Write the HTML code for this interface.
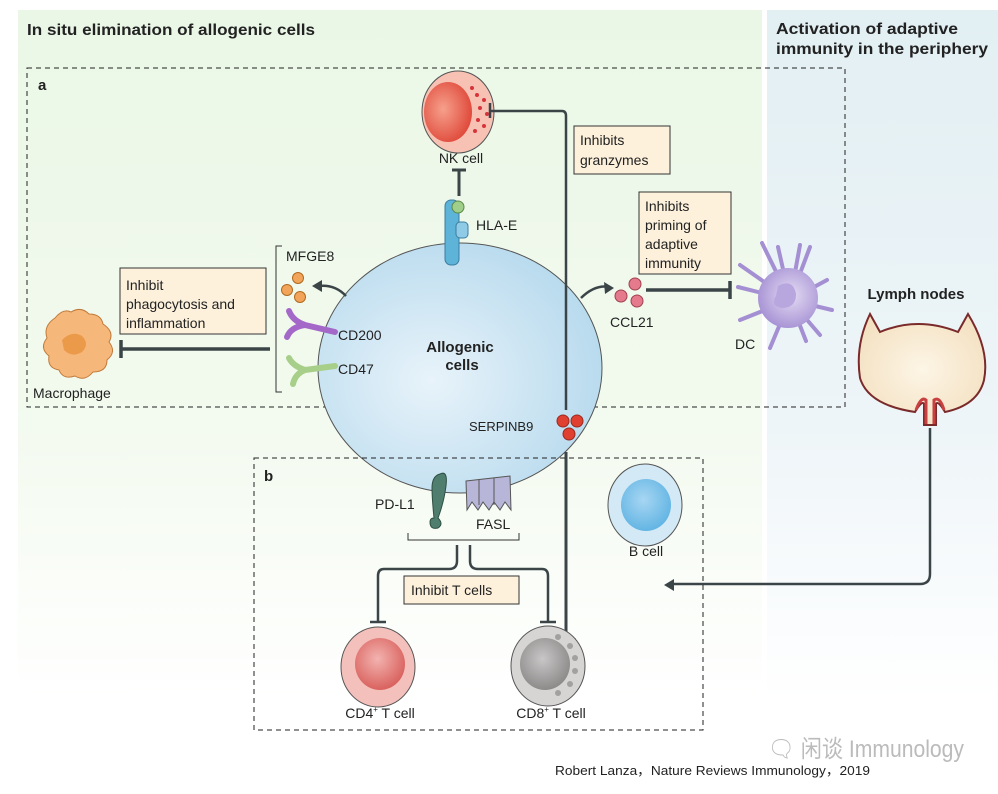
<!DOCTYPE html>
<html><head><meta charset="utf-8"><style>
html,body{margin:0;padding:0;background:#fff;}
svg{display:block;font-family:"Liberation Sans","Noto Sans CJK SC",sans-serif;}
</style></head><body>
<svg width="998" height="794" viewBox="0 0 998 794" xmlns="http://www.w3.org/2000/svg">
<defs>
<linearGradient id="gg" x1="0" y1="0" x2="0" y2="1"><stop offset="0" stop-color="#eaf7e6"/><stop offset="0.6" stop-color="#f3faef"/><stop offset="1" stop-color="#ffffff"/></linearGradient>
<linearGradient id="bg" x1="0" y1="0" x2="0" y2="1"><stop offset="0" stop-color="#e2eff3"/><stop offset="0.6" stop-color="#eef5f8"/><stop offset="1" stop-color="#ffffff"/></linearGradient>
<radialGradient id="cell" cx="0.4" cy="0.55" r="0.6"><stop offset="0" stop-color="#e8f3fa"/><stop offset="1" stop-color="#b9dbee"/></radialGradient>
<radialGradient id="nk" cx="0.4" cy="0.45" r="0.6"><stop offset="0" stop-color="#f6a08c"/><stop offset="1" stop-color="#e04b3c"/></radialGradient>
<radialGradient id="cd4" cx="0.45" cy="0.4" r="0.6"><stop offset="0" stop-color="#f3b3b0"/><stop offset="1" stop-color="#d9625e"/></radialGradient>
<radialGradient id="cd8" cx="0.45" cy="0.4" r="0.6"><stop offset="0" stop-color="#c8c6c6"/><stop offset="1" stop-color="#8d8a8a"/></radialGradient>
<radialGradient id="bc" cx="0.45" cy="0.4" r="0.6"><stop offset="0" stop-color="#a7d6f2"/><stop offset="1" stop-color="#63b5e4"/></radialGradient>
<radialGradient id="dc" cx="0.55" cy="0.45" r="0.6"><stop offset="0" stop-color="#e4dcf3"/><stop offset="1" stop-color="#a48fd3"/></radialGradient>
<radialGradient id="ln" cx="0.5" cy="0.5" r="0.6"><stop offset="0" stop-color="#fdf5e6"/><stop offset="1" stop-color="#f3e0c0"/></radialGradient>
</defs>
<rect x="18" y="10" width="744" height="690" fill="url(#gg)"/>
<rect x="767" y="10" width="231" height="690" fill="url(#bg)"/>

<text x="27" y="35" font-size="16" font-weight="bold" fill="#222" textLength="288" lengthAdjust="spacingAndGlyphs">In situ elimination of allogenic cells</text>
<text x="776" y="34" font-size="16" font-weight="bold" fill="#222" textLength="182" lengthAdjust="spacingAndGlyphs">Activation of adaptive</text>
<text x="776" y="54" font-size="16" font-weight="bold" fill="#222" textLength="212" lengthAdjust="spacingAndGlyphs">immunity in the periphery</text>

<rect x="27" y="68" width="818" height="339" fill="none" stroke="#222" stroke-dasharray="5,4"/>
<text x="38" y="90" font-size="15" font-weight="bold" fill="#222">a</text>

<ellipse cx="460" cy="368" rx="142" ry="125" fill="url(#cell)" stroke="#555" stroke-width="1"/>
<text x="460" y="352" font-size="15" font-weight="bold" text-anchor="middle" fill="#222">Allogenic</text>
<text x="462" y="370" font-size="15" font-weight="bold" text-anchor="middle" fill="#222">cells</text>

<ellipse cx="458" cy="112" rx="36" ry="41" fill="#f7c2b4" stroke="#555"/>
<ellipse cx="448" cy="112" rx="24" ry="30" fill="url(#nk)"/>
<g fill="#d8323a"><circle cx="477" cy="95" r="2"/><circle cx="484" cy="100" r="2"/><circle cx="480" cy="108" r="2"/><circle cx="487" cy="114" r="2"/><circle cx="478" cy="120" r="2"/><circle cx="484" cy="126" r="2"/><circle cx="475" cy="131" r="2"/><circle cx="472" cy="88" r="2"/></g>
<text x="461" y="163" font-size="14" text-anchor="middle" fill="#222">NK cell</text>
<path d="M459 196 V170 M452 170 H466" stroke="#3b4548" stroke-width="3" fill="none"/>
<rect x="445" y="200" width="14" height="65" rx="6" fill="#5eb3d8" stroke="#3b7da0"/>
<rect x="456" y="222" width="12" height="16" rx="4" fill="#8fcbe6" stroke="#3b7da0"/>
<circle cx="458" cy="207" r="6" fill="#9fcf8a" stroke="#5a8a45"/>
<text x="476" y="230" font-size="14" fill="#222">HLA-E</text>

<path d="M490 103 V118 M490 111 H562 Q566 111 566 116 V410" stroke="#3b4548" stroke-width="2.5" fill="none"/>
<path d="M566 452 V640 M556 640 H576" stroke="#3b4548" stroke-width="3" fill="none"/>
<rect x="574" y="126" width="96" height="48" fill="#fdf1dc" stroke="#333"/>
<text x="580" y="145" font-size="14" fill="#222">Inhibits</text>
<text x="580" y="165" font-size="14" fill="#222">granzymes</text>

<circle cx="563" cy="421" r="6" fill="#e0402f" stroke="#9a2a20"/>
<circle cx="577" cy="421" r="6" fill="#e0402f" stroke="#9a2a20"/>
<circle cx="569" cy="434" r="6" fill="#e0402f" stroke="#9a2a20"/>
<text x="469" y="431" font-size="13" fill="#222">SERPINB9</text>

<path d="M581 298 Q595 284 610 287" stroke="#3b4548" stroke-width="2.5" fill="none"/>
<path d="M604 282 L614 288 L605 294 Z" fill="#3b4548"/>
<circle cx="635" cy="284" r="6" fill="#e57a8c" stroke="#a04050"/>
<circle cx="621" cy="296" r="6" fill="#e57a8c" stroke="#a04050"/>
<circle cx="637" cy="301" r="6" fill="#e57a8c" stroke="#a04050"/>
<text x="610" y="327" font-size="14" fill="#222">CCL21</text>
<path d="M646 290 H730 M730 281 V299" stroke="#3b4548" stroke-width="3.5" fill="none"/>
<rect x="639" y="192" width="92" height="82" fill="#fdf1dc" stroke="#333"/>
<text x="645" y="211" font-size="14" fill="#222">Inhibits</text>
<text x="645" y="230" font-size="14" fill="#222">priming of</text>
<text x="645" y="249" font-size="14" fill="#222">adaptive</text>
<text x="645" y="268" font-size="14" fill="#222">immunity</text>
<g stroke="#a48fd3" stroke-width="4" stroke-linecap="round" fill="none">
<path d="M790 300 L762 243"/><path d="M790 300 L778 247"/><path d="M790 300 L810 247"/><path d="M790 300 L827 280"/><path d="M790 300 L832 310"/><path d="M790 300 L806 341"/><path d="M790 300 L770 348"/><path d="M790 300 L740 320"/><path d="M790 300 L738 287"/><path d="M790 300 L740 265"/><path d="M790 300 L800 245"/><path d="M790 300 L820 335"/>
</g>
<circle cx="788" cy="298" r="30" fill="url(#dc)"/>
<path d="M778 286 q15 -8 18 8 q0 14 -14 14 q-12 -2 -6 -12 z" fill="#b8a6df"/>
<text x="735" y="349" font-size="14" fill="#222">DC</text>

<path d="M282 246 H276 V392 H282" stroke="#333" fill="none"/>
<text x="286" y="261" font-size="14" fill="#222">MFGE8</text>
<circle cx="298" cy="278" r="5.5" fill="#f2a55a" stroke="#b06a20"/>
<circle cx="287" cy="290" r="5.5" fill="#f2a55a" stroke="#b06a20"/>
<circle cx="300" cy="297" r="5.5" fill="#f2a55a" stroke="#b06a20"/>
<path d="M346 296 Q335 284 318 286" stroke="#3b4548" stroke-width="2.5" fill="none"/>
<path d="M322 280 L312 286 L322 292 Z" fill="#3b4548"/>
<path d="M335 332 L305 325 M305 325 q-12 -4 -16 -14 M305 325 q-14 2 -18 12" stroke="#a468c8" stroke-width="6" stroke-linecap="round" fill="none"/>
<text x="338" y="340" font-size="14" fill="#222">CD200</text>
<path d="M335 366 L305 370 M305 370 q-12 -4 -16 -12 M305 370 q-10 4 -12 14" stroke="#a8cf8a" stroke-width="6" stroke-linecap="round" fill="none"/>
<text x="338" y="374" font-size="14" fill="#222">CD47</text>
<rect x="120" y="268" width="146" height="66" fill="#fdf1dc" stroke="#333"/>
<text x="126" y="290" font-size="14" fill="#222">Inhibit</text>
<text x="126" y="309" font-size="14" fill="#222">phagocytosis and</text>
<text x="126" y="328" font-size="14" fill="#222">inflammation</text>
<path d="M270 349 H121 M121 340 V358" stroke="#3b4548" stroke-width="3.5" fill="none"/>

<path d="M55 318 q8 -10 16 -6 q10 -6 18 2 q12 0 14 10 q12 8 6 18 q8 10 -2 18 q0 12 -14 12 q-8 10 -18 4 q-12 4 -16 -6 q-12 -2 -10 -14 q-10 -8 -2 -18 q-4 -12 8 -20 z" fill="#f6b77a" stroke="#c07a3a"/>
<path d="M62 340 q10 -10 20 -4 q8 8 0 16 q-10 6 -18 -2 z" fill="#eb9a4a"/>
<text x="33" y="398" font-size="14" fill="#222">Macrophage</text>

<text x="916" y="299" font-size="15" font-weight="bold" text-anchor="middle" fill="#222">Lymph nodes</text>
<path d="M870 314 L880 332 Q918 316 958 332 L968 314 Q990 350 984 380 Q978 405 945 412 Q938 400 936 404 V425 H924 V404 Q922 400 915 412 Q868 405 860 378 Q855 345 870 314 Z" fill="url(#ln)" stroke="#7a2a2a" stroke-width="2"/>
<path d="M916 410 Q921 396 926 400 V424 M934 424 V400 Q940 396 944 410" stroke="#c84040" stroke-width="3" fill="none"/>
<path d="M930 428 V574 Q930 584 920 584 H668" stroke="#3b4548" stroke-width="2.5" fill="none"/>
<path d="M664 585 L674 579 L674 591 Z" fill="#3b4548"/>

<rect x="254" y="458" width="449" height="272" fill="none" stroke="#222" stroke-dasharray="5,4"/>
<text x="264" y="481" font-size="15" font-weight="bold" fill="#222">b</text>
<path d="M440 474 q8 -4 6 12 q-2 16 -8 32 q6 6 0 10 q-8 2 -8 -6 q0 -4 4 -4 q-2 -20 -2 -30 q0 -12 8 -14 z" fill="#4f7d6e" stroke="#2d4f44"/>
<text x="375" y="509" font-size="14" fill="#222">PD-L1</text>
<path d="M466 481 L510 476 L511 510 L505 502 L500 510 L494 502 L489 510 L483 502 L478 510 L472 502 L467 510 Z" fill="#b8b6d8" stroke="#555"/>
<path d="M479 480 V505 M494 478 V505" stroke="#555" fill="none"/>
<text x="476" y="529" font-size="14" fill="#222">FASL</text>
<path d="M408 533 V540 H519 V533" stroke="#333" fill="none"/>
<path d="M457 545 V561 Q457 569 449 569 H384 Q378 569 378 576 V622 M370 622 H386" stroke="#3b4548" stroke-width="2.5" fill="none"/>
<path d="M470 545 V561 Q470 569 478 569 H542 Q548 569 548 576 V622 M540 622 H556" stroke="#3b4548" stroke-width="2.5" fill="none"/>
<rect x="404" y="576" width="115" height="28" fill="#fdf1dc" stroke="#333"/>
<text x="411" y="595" font-size="14" fill="#222">Inhibit T cells</text>

<ellipse cx="378" cy="667" rx="37" ry="40" fill="#f4c0bc" stroke="#555"/>
<ellipse cx="380" cy="664" rx="25" ry="26" fill="url(#cd4)"/>
<text x="380" y="718" font-size="14" text-anchor="middle" fill="#222">CD4<tspan font-size="8" dy="-6">+</tspan><tspan dy="6"> T cell</tspan></text>
<ellipse cx="548" cy="666" rx="37" ry="40" fill="#d7d4d4" stroke="#555"/>
<ellipse cx="545" cy="664" rx="25" ry="26" fill="url(#cd8)"/>
<g fill="#a3a0a0"><circle cx="558" cy="637" r="3"/><circle cx="570" cy="646" r="3"/><circle cx="575" cy="658" r="3"/><circle cx="575" cy="671" r="3"/><circle cx="570" cy="684" r="3"/><circle cx="558" cy="693" r="3"/></g>
<text x="551" y="718" font-size="14" text-anchor="middle" fill="#222">CD8<tspan font-size="8" dy="-6">+</tspan><tspan dy="6"> T cell</tspan></text>
<ellipse cx="645" cy="505" rx="37" ry="41" fill="#d3e9f6" stroke="#555"/>
<ellipse cx="646" cy="505" rx="25" ry="26" fill="url(#bc)"/>
<text x="646" y="556" font-size="14" text-anchor="middle" fill="#222">B cell</text>

<text x="768" y="757" font-size="24" fill="#bbb" textLength="196" lengthAdjust="spacingAndGlyphs">&#x1F5E8; 闲谈 Immunology</text>
<text x="555" y="775" font-size="13" fill="#222" textLength="315" lengthAdjust="spacingAndGlyphs">Robert Lanza，Nature Reviews Immunology，2019</text>
</svg>
</body></html>
